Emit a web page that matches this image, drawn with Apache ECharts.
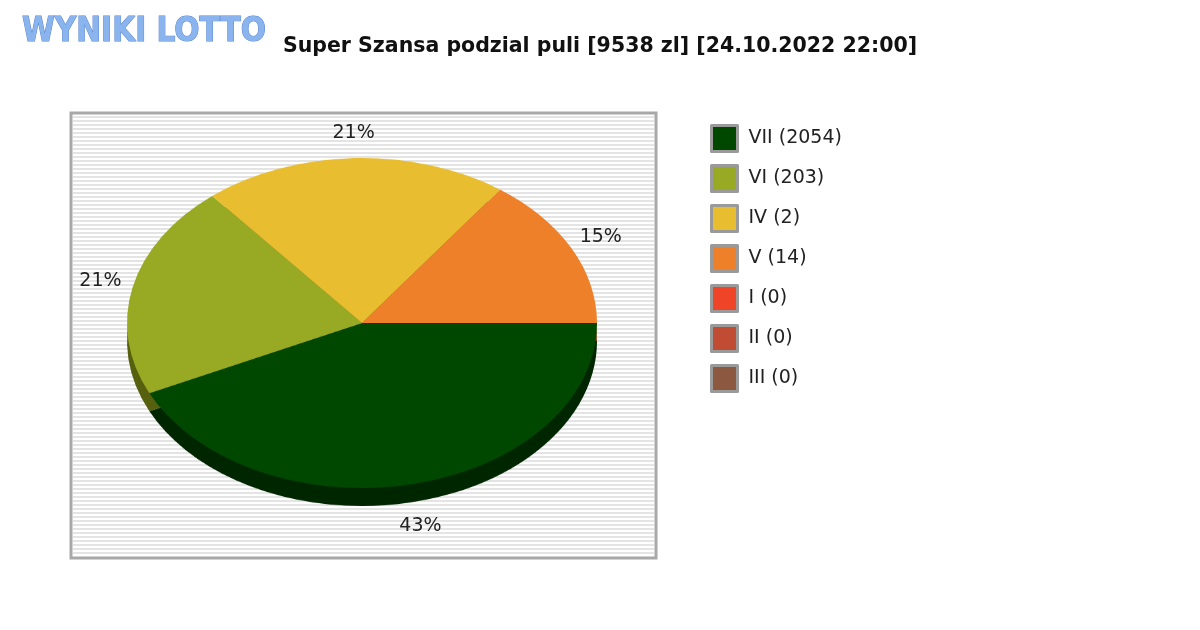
<!DOCTYPE html>
<html><head><meta charset="utf-8">
<script src="https://cdn.jsdelivr.net/npm/echarts@6/dist/echarts.min.js"></script>
<style>
body{margin:0;background:#fff}
#wrap{position:relative;width:1200px;height:630px;overflow:hidden}
.layer{position:absolute;left:0;top:0;width:1200px;height:630px}
#depth,#pie{transform-origin:362px 323px;transform:scaleY(0.702)}
#depth{top:18px}
</style></head><body>
<div id="wrap">
<div id="main" class="layer"></div>
<div id="depth" class="layer"></div>
<div id="pie" class="layer"></div>
</div>
<script>
var names = ['VII (2054)', 'VI (203)', 'IV (2)', 'V (14)', 'I (0)', 'II (0)', 'III (0)'];
var shares = [43, 21, 21, 15, 0, 0, 0];
var colors = ['#004800', '#98aa24', '#e8be30', '#ee8029', '#f04428', '#c04c34', '#8c5840'];
var darkColors = ['#002600', '#56600f', '#84691a', '#864614', '#882414', '#6c2a1c', '#4e3022'];

var cx = 362, cy = 323, rx = 235;

// 背景条纹
var graphics = [];
graphics.push({type:'rect', shape:{x:71,y:113,width:585,height:445}, style:{fill:'#fff', stroke:'#a8a8a8', lineWidth:3}});
for (var y = 116; y < 556; y += 4) {
	graphics.push({type:'rect', shape:{x:73,y:y,width:581,height:2}, style:{fill:'#e4e4e4'}});
}
// 标题和标志
graphics.push({type:'text', left:'center', top:36, style:{text:'Super Szansa podzial puli [9538 zl] [24.10.2022 22:00]', font:'bold 20.5px "DejaVu Sans"', fill:'#111'}});
graphics.push({type:'text', x:22, y:16, style:{text:'WYNIKI LOTTO', font:'bold 33px "DejaVu Sans Condensed"', fill:'#8ab4ee', stroke:'#5a86d0', lineWidth:1}});

// 百分比标签
var total = shares.reduce(function(a,b){return a+b;},0);
var acc = 0;
for (var i = 0; i < shares.length; i++) {
	if (shares[i] > 0) {
		var mid = (acc + shares[i] / 2) / total * 2 * Math.PI;
		var lx = cx + Math.cos(mid) * 268;
		var ly = cy + Math.sin(mid) * 190 + (Math.sin(mid) > 0 ? 18 : 0);
		graphics.push({type:'text', x:lx, y:ly, style:{text:shares[i] + '%', font:'19px "DejaVu Sans"', fill:'#222', align:'center', verticalAlign:'middle'}});
	}
	acc += shares[i];
}

var legendData = names.map(function(n, i){ return {name:n, value:1, itemStyle:{color:colors[i]}}; });
var main = echarts.init(document.getElementById('main'));
main.setOption({
	animation:false,
	graphic: graphics,
	legend: {
		orient:'vertical', left:705, top:119, itemGap:11, itemWidth:26, itemHeight:26,
		icon:'rect', selectedMode:false,
		itemStyle:{borderColor:'#9a9a9a', borderWidth:3},
		textStyle:{fontSize:19, fontFamily:'DejaVu Sans', color:'#222', padding:[2,0,0,6]},
		data: names
	},
	series: [{type:'pie', radius:[0,0], center:[-100,-100], label:{show:false}, data:legendData}]
});

function pieOption(cols) {
	return {
		animation:false,
		series: [{
			type:'pie', center:[cx, cy], radius:rx, startAngle:0, clockwise:true,
			label:{show:false}, labelLine:{show:false}, silent:true,
			data: shares.map(function(v, i){ return {name:names[i], value:v, itemStyle:{color:cols[i]}}; })
		}]
	};
}
echarts.init(document.getElementById('depth')).setOption(pieOption(darkColors));
echarts.init(document.getElementById('pie')).setOption(pieOption(colors));
</script>
</body></html>
